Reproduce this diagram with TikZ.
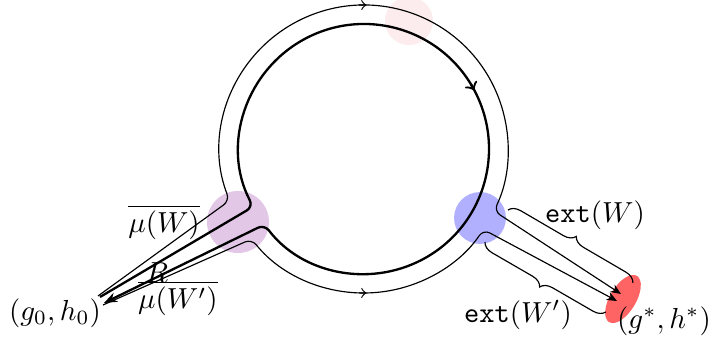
\documentclass[tikz,border=0pt]{standalone}
\usetikzlibrary{arrows.meta,decorations.pathreplacing,calc,shapes.geometric}
\definecolor{lilac}{RGB}{226,200,230}
\definecolor{blobblue}{RGB}{176,176,255}
\definecolor{blobred}{RGB}{255,100,100}
\definecolor{blobpink}{RGB}{253,236,238}
\begin{document}
\begin{tikzpicture}[x=0.345pt,y=0.345pt,
  thinpath/.style={line width=0.4pt, rounded corners=2.5pt},
  thickpath/.style={line width=0.8pt, rounded corners=2.5pt},
  blob/.style={circle, inner sep=0pt, draw=none},
  endtip/.style={-{Stealth[length=3.6pt,width=3pt]}},
  lbl/.style={inner sep=0pt}]
\useasboundingbox (0,0) rectangle (708,340);
\coordinate (C) at (364,191);
% blobs
\node[blob, fill=blobpink, minimum size=16.6pt] (pink) at (409,319) {};
\node[blob, fill=lilac, minimum size=21.4pt] (purple) at (238,118) {};
\node[blob, fill=blobblue, minimum size=17.9pt] (blue) at (480,122) {};
\node[ellipse, fill=blobred, inner sep=0pt, minimum width=9pt, minimum height=18.6pt, rotate=-31] (red) at (623,41) {};
% end points
\coordinate (Wstart) at (98,44);
\coordinate (Wend) at (621,46);
\coordinate (Vstart) at (103,35);
\coordinate (Vend) at (617,39);
\coordinate (Rstart) at (100,43);
\coordinate (Rend) at (104,37);
% W path
\draw[thinpath, endtip] (Wstart) -- ($(C)+(201:144)$) arc[start angle=201, end angle=-25.5, radius=144] -- (Wend);
% W' path
\draw[thinpath, endtip] (Vstart) -- ($(C)+(218.7:144)$) arc[start angle=218.7, end angle=326, radius=144] -- (Vend);
% R loop
\draw[thickpath, -{Stealth[length=4.5pt,width=3.4pt]}] (Rstart) -- ($(C)+(207.5:125)$) arc[start angle=207.5, end angle=-142.8, radius=125] -- (Rend);
% mid arrows
\draw[-to] ($(C)+(92:144)$) -- ($(C)+(89:144)$);
\draw[-to] ($(C)+(268:144)$) -- ($(C)+(271:144)$);
\draw[-to, line width=0.8pt] ($(C)+(31:125)$) -- ($(C)+(28:125)$);
% braces
\coordinate (bWa) at (508,130);
\coordinate (bWb) at (633,57);
\coordinate (bVa) at (485,98);
\coordinate (bVb) at (606,28);
\draw[decorate, decoration={brace, amplitude=4pt}] (bWa) -- (bWb);
\draw[decorate, decoration={brace, mirror, amplitude=4pt}] (bVa) -- (bVb);
% labels
\node[lbl] (muW) at (164,118) {$\overline{\mu(W)}$};
\node[lbl] (Rl) at (157,67) {$R$};
\node[lbl] (muWp) at (178,42) {$\overline{\mu(W')}$};
\node[lbl] (g0) at (55,27) {$(g_0,h_0)$};
\node[lbl] (extW) at (595,125) {\texttt{ext}$(W)$};
\node[lbl] (extWp) at (518,25) {\texttt{ext}$(W')$};
\node[lbl] (gs) at (664,19) {$(g^*,h^*)$};
\end{tikzpicture}
\end{document}
